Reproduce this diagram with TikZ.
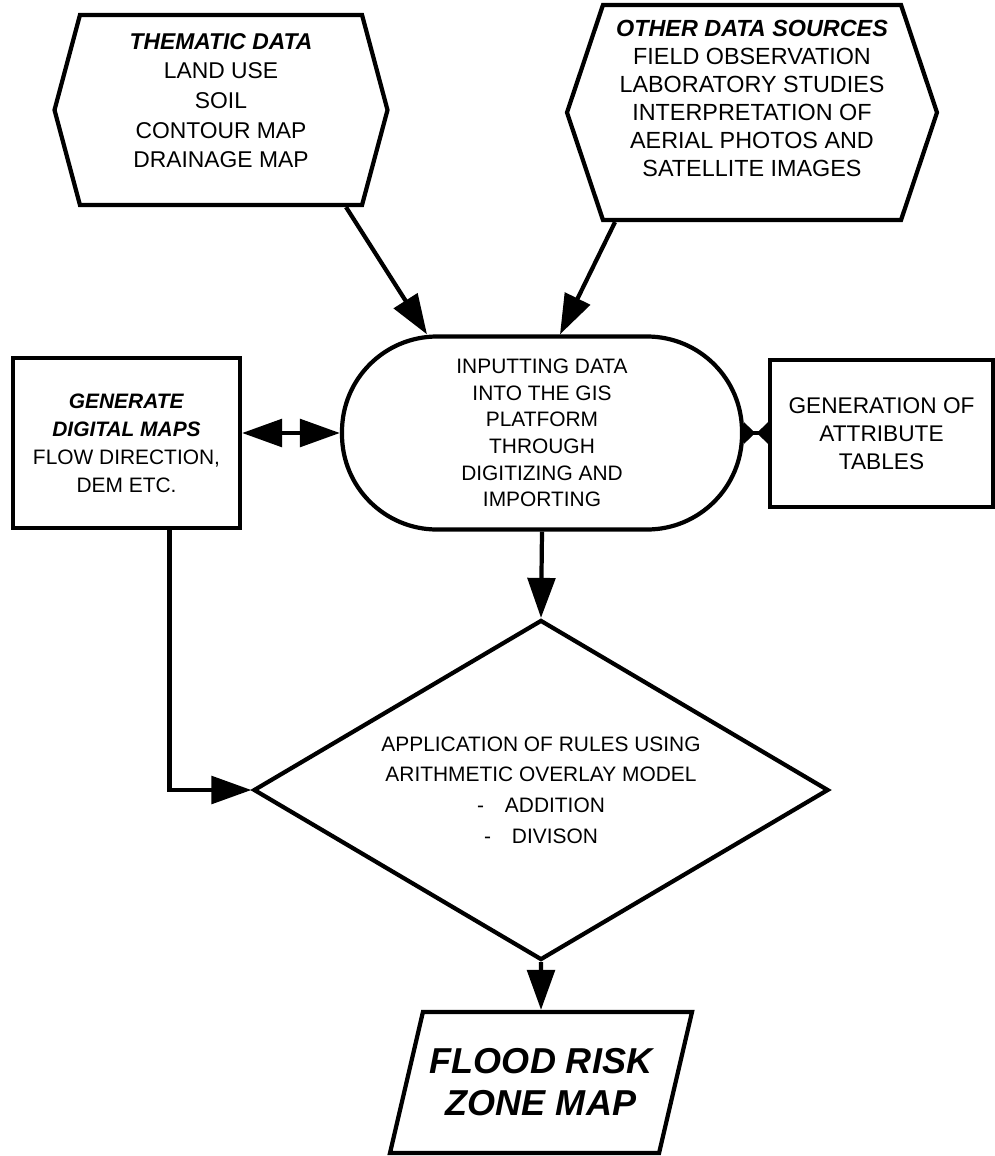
\documentclass[tikz,border=0pt]{standalone}
\usepackage{fontspec}
\setmainfont{Liberation Sans}
\usetikzlibrary{shapes.geometric, shapes.symbols, arrows.meta, positioning, calc}

\begin{document}
\begin{tikzpicture}[
  line width=2.4pt,
  src/.style={draw, signal, signal to=west and east, align=center, inner sep=0pt},
  box/.style={draw, rectangle, align=center, inner sep=0pt},
  arr/.style={-{Triangle[length=0.8cm,width=0.55cm]}},
  arrboth/.style={{Triangle[length=0.8cm,width=0.55cm]}-{Triangle[length=0.8cm,width=0.55cm]}},
  stub/.style={{Triangle[reversed,length=0.22cm,width=0.42cm]}-{Triangle[reversed,length=0.22cm,width=0.42cm]}}
]
\useasboundingbox (0,0) rectangle (19.9,-23.12);

% data sources
\node[src, signal pointer angle=150, minimum width=6.66cm, minimum height=3.8cm,
  font=\fontsize{13}{16.9}\selectfont] (thm) at (4.42,-2.2)
  {\textbf{\textit{THEMATIC DATA}}\\LAND USE\\SOIL\\CONTOUR MAP\\DRAINAGE MAP\\[-6pt]~};
\node[src, signal pointer angle=143, minimum width=7.4cm, minimum height=4.3cm,
  font=\fontsize{13.3}{15.9}\selectfont] (oth) at (15.04,-2.25)
  {\textbf{\textit{OTHER DATA SOURCES}}\\FIELD OBSERVATION\\LABORATORY STUDIES\\INTERPRETATION OF\\AERIAL PHOTOS AND\\SATELLITE IMAGES\\~};

% input row
\node[draw, align=center, rounded corners=1.9cm, minimum width=8cm, minimum height=3.86cm,
  font=\fontsize{11.9}{15.2}\selectfont] (inp) at (10.84,-8.66)
  {INPUTTING DATA\\INTO THE GIS\\PLATFORM\\THROUGH\\DIGITIZING AND\\IMPORTING};
\node[box, minimum width=4.54cm, minimum height=3.4cm,
  font=\fontsize{11.9}{15.9}\selectfont] (gen) at (2.53,-8.86)
  {\textbf{\textit{GENERATE}}\\\textbf{\textit{DIGITAL MAPS}}\\FLOW DIRECTION,\\DEM ETC.};
\node[box, minimum width=4.46cm, minimum height=2.94cm,
  font=\fontsize{12.9}{15.9}\selectfont] (att) at (17.63,-8.67)
  {GENERATION OF\\ATTRIBUTE\\TABLES};

% rules
\node[draw, diamond, aspect=2, inner sep=0pt, minimum width=11.5cm, minimum height=6.8cm,
  align=center, font=\fontsize{11.9}{17.4}\selectfont] (rul) at (10.82,-15.8)
  {APPLICATION OF RULES USING\\ARITHMETIC OVERLAY MODEL\\-\quad ADDITION\\-\quad DIVISON};

% result
\node[draw, trapezium, trapezium left angle=64, trapezium right angle=116,
  trapezium stretches body, inner sep=0pt, minimum width=6.04cm, minimum height=2.82cm,
  align=center, font=\fontsize{20.5}{23.9}\selectfont\bfseries\itshape] (flo) at (10.82,-21.65)
  {FLOOD RISK\\ZONE MAP};

% connectors
\draw[arr] ([xshift=2.5cm]thm.south) -- ([xshift=-2.3cm]inp.north);
\draw[arr] ([xshift=-2.74cm]oth.south) -- ([xshift=0.36cm]inp.north);
\draw[arrboth] (gen.east |- inp.west) -- (inp.west);
\draw[stub] (inp.east) -- (att.west |- inp.east);
\draw[arr] (inp.south) -- (rul.north);
\draw[arr] ([xshift=0.86cm]gen.south) |- (rul.west);
\draw[arr] (rul.south) -- (flo.north);
\end{tikzpicture}
\end{document}
